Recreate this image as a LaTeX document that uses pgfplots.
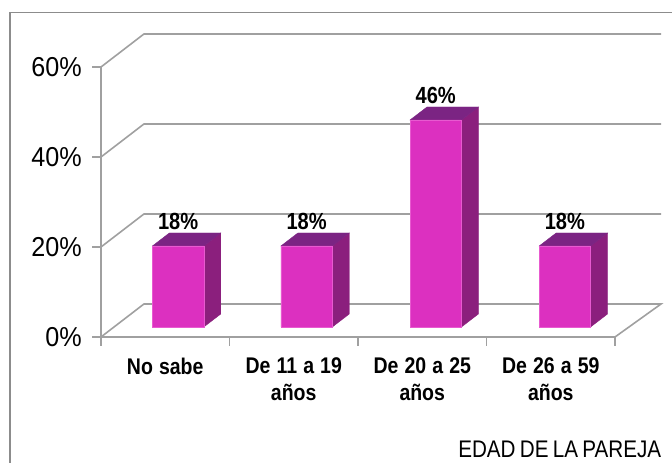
\documentclass[border=0pt]{standalone}
\usepackage{pgfplots}
\pgfplotsset{compat=1.18}
\usepackage{fontspec}
\setmainfont{Liberation Sans}
\newfontfamily\narrowsans[FakeStretch=0.86,WordSpace=0.75]{Liberation Sans}
\newfontfamily\ticksans[FakeStretch=0.92]{Liberation Sans}
\newcommand{\gap}{\hspace{0.27em}}
\definecolor{barfront}{HTML}{DC30C0}
\definecolor{barside}{HTML}{8B1F7D}
\definecolor{bartop}{HTML}{7B2483}
\definecolor{baredge}{HTML}{E85AD0}
\definecolor{gridgray}{HTML}{A0A0A0}
\definecolor{framegray}{HTML}{8C8C8C}
\begin{document}
\begin{tikzpicture}[x=1pt,y=1pt]
% page area and outer chart frame, open on the right and at the bottom
\useasboundingbox (-75.75,-94.5) rectangle (428.25,252.75);
\draw[framegray,line width=0.8pt] (-68.25,-94.5) -- (-68.25,243.4) -- (428.25,243.4);
\begin{axis}[
  at={(0pt,0pt)}, anchor=origin,
  scale only axis, width=385.5pt, height=202.5pt,
  xmin=0, xmax=4, ymin=0, ymax=60,
  clip=false,
  axis x line=bottom, axis y line=left,
  axis line style={gridgray,line width=1.1pt,-},
  tick style={gridgray,line width=0.9pt},
  tick align=outside,
  major tick length=6.5pt,
  xtick={0,1,2,3,4},
  x tick label as interval,
  xticklabels={No\gap sabe,De\gap 11\gap a\gap 19\\años,De\gap 20\gap a\gap 25\\años,De\gap 26\gap a\gap 59\\años},
  x tick label style={font=\narrowsans\fontsize{17}{20}\selectfont\bfseries,align=center,text width=110pt,yshift=-5.5pt},
  ytick={0,20,40,60},
  yticklabel={\pgfmathprintnumber{\tick}\%},
  /pgf/number format/assume math mode=true,
  y tick label style={font=\ticksans\fontsize{20.5}{22}\selectfont,xshift=-4.5pt},
  xlabel={EDAD DE LA PAREJA},
  xlabel style={font=\narrowsans\fontsize{18}{20}\selectfont,at={(axis cs:3.57,-25.0)},anchor=center},
]
% back wall gridlines and floor, running from the front axis to the rear plane
\addplot[gridgray,line width=1.2pt] coordinates {(0,0) (0.334,7.33) (4.358,7.33) (4,0)};
\addplot[gridgray,line width=1.2pt] coordinates {(0,20) (0.334,27.33) (4.358,27.33)};
\addplot[gridgray,line width=1.2pt] coordinates {(0,40) (0.334,47.33) (4.358,47.33)};
\addplot[gridgray,line width=1.2pt] coordinates {(0,60) (0.334,67.33) (4.358,67.33)};

% side faces
\addplot[fill=barside,draw=barside,yshift=7.5pt,line width=0.3pt] coordinates {(0.8,0) (0.932,2.89) (0.932,20.89) (0.8,18)} -- cycle;
\addplot[fill=barside,draw=barside,yshift=7.5pt,line width=0.3pt] coordinates {(1.8,0) (1.932,2.89) (1.932,20.89) (1.8,18)} -- cycle;
\addplot[fill=barside,draw=barside,yshift=7.5pt,line width=0.3pt] coordinates {(2.805,0) (2.937,2.89) (2.937,48.89) (2.805,46)} -- cycle;
\addplot[fill=barside,draw=barside,yshift=7.5pt,line width=0.3pt] coordinates {(3.81,0) (3.942,2.89) (3.942,20.89) (3.81,18)} -- cycle;
% top faces
\addplot[fill=bartop,draw=bartop,yshift=7.5pt,line width=0.3pt] coordinates {(0.4,18) (0.532,20.89) (0.932,20.89) (0.8,18)} -- cycle;
\addplot[fill=bartop,draw=bartop,yshift=7.5pt,line width=0.3pt] coordinates {(1.4,18) (1.532,20.89) (1.932,20.89) (1.8,18)} -- cycle;
\addplot[fill=bartop,draw=bartop,yshift=7.5pt,line width=0.3pt] coordinates {(2.405,46) (2.537,48.89) (2.937,48.89) (2.805,46)} -- cycle;
\addplot[fill=bartop,draw=bartop,yshift=7.5pt,line width=0.3pt] coordinates {(3.41,18) (3.542,20.89) (3.942,20.89) (3.81,18)} -- cycle;
% front faces carrying the value labels
\addplot[ybar,bar shift=0pt,bar width=38.6pt,fill=barfront,draw=baredge,line width=0.4pt,yshift=7.5pt,
  nodes near coords={\pgfmathprintnumber{\pgfplotspointmeta}\%},
  nodes near coords style={font=\narrowsans\fontsize{17.5}{20}\selectfont\bfseries,text=black,anchor=center,yshift=18.5pt},
] coordinates {(0.6,18) (1.6,18) (2.605,46) (3.61,18)};
\end{axis}
\end{tikzpicture}
\end{document}
